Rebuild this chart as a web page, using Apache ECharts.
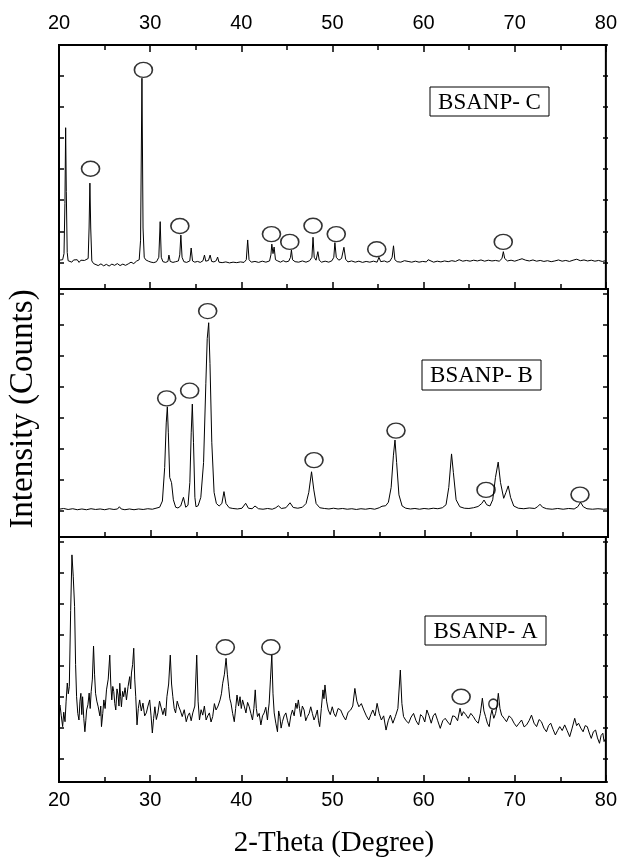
<!DOCTYPE html>
<html><head><meta charset="utf-8">
<script src="https://cdn.jsdelivr.net/npm/echarts@6/dist/echarts.min.js"></script>
<style>html,body{margin:0;padding:0;background:#fff}#c{width:620px;height:859px}</style>
</head><body><div id="c"></div>
<script>
const sampleLabels = ['BSANP- C', 'BSANP- B', 'BSANP- A'];
const xTitle = '2-Theta (Degree)';
const yTitle = 'Intensity (Counts)';
const xMin = 20, xMax = 80, xStep = 10;

// Panel C (top) trace: [2theta, relative intensity]
const traceC = [[20.0,11.8],[20.2,11.3],[20.4,12.0],[20.55,14.5],[20.65,35],[20.73,66.1],[20.8,40],[20.9,15],[21.0,11.6],[21.2,12.2],[21.4,11.0],[21.6,11.9],[21.8,11.2],[22.0,12.0],[22.2,10.9],[22.4,11.8],[22.6,11.1],[22.8,11.7],[23.0,11.2],[23.2,12.5],[23.3,25],[23.39,43.4],[23.48,25],[23.6,11.5],[23.8,10.4],[24.0,10.0],[24.3,9.6],[24.6,10.3],[24.9,9.5],[25.2,10.1],[25.5,9.4],[25.8,10.2],[26.1,9.7],[26.4,10.4],[26.7,9.6],[27.0,10.2],[27.3,9.7],[27.6,10.3],[27.9,11.0],[28.2,10.4],[28.5,11.4],[28.8,12.0],[28.95,20],[29.1,86.4],[29.22,25],[29.35,13],[29.5,12.0],[29.8,11.4],[30.1,11.0],[30.4,10.8],[30.7,11.2],[30.95,13],[31.1,27.6],[31.22,13],[31.4,11.2],[31.7,10.9],[31.95,11.3],[32.06,13.9],[32.2,11.3],[32.5,10.9],[32.8,11.2],[33.1,11.5],[33.25,14],[33.37,22.1],[33.5,13],[33.7,11.2],[34.0,10.9],[34.35,11.5],[34.5,16.8],[34.65,11.5],[34.9,11.0],[35.2,11.3],[35.5,10.9],[35.8,11.6],[35.96,13.9],[36.1,11.4],[36.4,11.7],[36.58,13.9],[36.75,11.3],[37.0,11.1],[37.25,11.6],[37.4,13.1],[37.55,11.0],[37.9,10.8],[38.3,11.1],[38.7,10.7],[39.1,11.0],[39.5,10.8],[39.9,11.1],[40.3,10.9],[40.55,12],[40.7,20.1],[40.85,12],[41.1,11.0],[41.5,11.3],[41.9,10.9],[42.3,11.4],[42.7,11.0],[43.1,11.5],[43.25,14],[43.35,18.4],[43.48,14.5],[43.6,17.2],[43.75,12],[44.0,11.5],[44.3,11.0],[44.6,11.6],[44.9,11.1],[45.2,11.4],[45.4,13],[45.5,16.0],[45.62,12],[45.9,11.2],[46.3,11.0],[46.7,11.5],[47.1,11.0],[47.5,11.6],[47.75,13],[47.87,21.2],[48.0,13],[48.2,11.8],[48.4,15.3],[48.55,11.8],[48.8,11.0],[49.2,11.4],[49.6,11.0],[49.95,11.6],[50.15,13],[50.27,19.0],[50.42,13],[50.7,11.8],[51.0,12.5],[51.26,17.1],[51.45,12.2],[51.7,11.1],[52.1,11.5],[52.5,11.0],[52.9,11.4],[53.3,10.9],[53.7,11.3],[54.1,11.0],[54.5,11.4],[54.9,11.0],[55.1,13.0],[55.3,11.2],[55.7,11.5],[56.0,11.0],[56.3,11.4],[56.55,13],[56.7,17.7],[56.85,12],[57.1,11.2],[57.5,11.0],[57.9,11.6],[58.1,12.2],[58.3,11.3],[58.7,11.0],[59.1,11.4],[59.5,11.0],[59.9,11.3],[60.3,11.1],[60.5,12.0],[60.7,11.2],[61.1,11.0],[61.5,11.4],[61.9,11.1],[62.3,11.5],[62.7,11.2],[63.1,11.6],[63.5,11.3],[63.9,12.0],[64.3,11.4],[64.7,11.7],[65.1,11.4],[65.5,11.8],[65.9,11.5],[66.3,11.9],[66.7,11.4],[67.1,11.8],[67.5,11.5],[67.9,11.7],[68.3,11.4],[68.6,12.5],[68.75,15.3],[68.9,12.5],[69.2,11.5],[69.6,11.8],[70.0,11.4],[70.4,11.9],[70.8,12.4],[71.2,11.8],[71.6,11.5],[72.0,11.9],[72.4,11.4],[72.8,11.7],[73.2,11.3],[73.6,11.6],[74.0,11.2],[74.4,11.5],[74.8,11.9],[75.2,11.4],[75.6,11.7],[76.0,11.3],[76.4,11.8],[76.8,12.2],[77.2,11.6],[77.6,11.9],[78.0,11.5],[78.4,11.8],[78.8,11.4],[79.2,11.7],[79.6,11.3],[80.0,11.6]];
const peaksC = [[23.46,49.3],[29.26,89.8],[33.26,25.8],[43.31,22.5],[45.32,19.3],[47.87,25.9],[50.42,22.5],[54.86,16.3],[68.74,19.3]];

// Panel B (middle)
const traceB = [[20.0,11.2],[20.5,11.5],[21.0,11.1],[21.5,11.4],[22.0,11.0],[22.5,11.3],[23.0,11.0],[23.5,11.4],[24.0,11.1],[24.5,11.3],[25.0,11.0],[25.5,11.4],[26.0,11.1],[26.4,11.3],[26.6,12.2],[26.8,11.3],[27.2,11.0],[27.7,11.3],[28.2,11.0],[28.7,11.3],[29.2,11.1],[29.7,11.4],[30.2,11.2],[30.6,11.6],[31.0,12.0],[31.3,14.5],[31.55,28],[31.72,46],[31.84,52.5],[31.95,42],[32.1,24],[32.3,21.9],[32.5,15],[32.75,12.0],[33.0,11.7],[33.3,12.5],[33.6,16.0],[33.85,12.0],[34.1,12.8],[34.3,22],[34.45,42],[34.57,53.6],[34.7,38],[34.85,16],[34.97,12.2],[35.2,12.6],[35.5,16],[35.8,30],[36.05,62],[36.2,80],[36.36,86.4],[36.5,70],[36.7,38],[36.95,18],[37.2,13.5],[37.5,12.5],[37.8,13.5],[38.03,18.3],[38.25,13.5],[38.6,11.8],[39.0,11.5],[39.5,11.3],[40.0,11.6],[40.4,13.6],[40.7,11.6],[41.1,11.4],[41.42,12.5],[41.8,11.4],[42.3,11.2],[42.8,11.5],[43.3,11.2],[43.7,11.8],[43.97,12.6],[44.3,11.5],[44.8,11.8],[45.25,13.8],[45.6,11.9],[46.1,11.6],[46.6,12.0],[47.0,13.5],[47.3,18],[47.6,26.3],[47.85,19],[48.1,13.5],[48.5,11.8],[49.0,11.5],[49.5,11.3],[50.0,11.6],[50.5,11.3],[51.0,11.5],[51.5,11.2],[52.0,11.4],[52.5,11.1],[53.0,11.4],[53.5,11.2],[54.0,11.5],[54.5,11.2],[55.0,11.8],[55.3,12.4],[55.45,12.9],[55.7,12.6],[56.0,14],[56.3,20],[56.55,33],[56.72,39.1],[56.9,30],[57.15,17],[57.5,12.5],[57.9,11.6],[58.4,11.3],[58.9,11.5],[59.4,11.2],[59.9,11.5],[60.4,11.3],[60.9,11.6],[61.4,11.4],[61.9,11.8],[62.3,13],[62.6,20],[62.9,33.5],[63.1,26],[63.4,15],[63.8,12.2],[64.3,11.6],[64.8,11.5],[65.3,11.8],[65.8,12.3],[66.2,13.5],[66.45,14.9],[66.75,13],[67.1,12.5],[67.4,15],[67.7,24],[68.0,30.2],[68.25,22],[68.6,15.6],[68.85,18],[69.1,20.6],[69.35,16],[69.7,12.5],[70.2,11.6],[70.8,11.4],[71.4,11.7],[72.0,11.5],[72.3,12.2],[72.57,13.2],[72.85,12.0],[73.3,11.4],[73.9,11.2],[74.5,11.5],[75.1,11.2],[75.7,11.5],[76.3,11.3],[76.7,12.2],[77.0,14.0],[77.3,12.2],[77.7,11.4],[78.3,11.2],[78.9,11.4],[79.5,11.2],[80.0,11.3]];
const peaksB = [[31.77,55.9],[34.28,59.0],[36.25,91.1],[47.87,31.0],[56.83,42.9],[66.67,19.0],[76.94,17.1]];

// Panel A (bottom)
const traceA = [[20.0,30.5],[20.11,31.4],[20.25,27.0],[20.40,22.6],[20.52,28.5],[20.66,24.6],[20.78,33.0],[20.91,40.4],[21.02,36.0],[21.13,38.9],[21.28,70.0],[21.42,92.7],[21.56,84.0],[21.71,71.6],[21.82,48.0],[21.93,34.8],[22.06,28.0],[22.19,25.3],[22.30,33.0],[22.40,36.2],[22.50,27.5],[22.59,34.8],[22.72,26.0],[22.84,20.5],[22.94,25.0],[23.03,29.4],[23.17,31.5],[23.31,36.3],[23.42,30.0],[23.53,36.9],[23.66,42.0],[23.79,55.5],[23.90,44.0],[24.01,36.2],[24.15,33.0],[24.30,30.7],[24.48,27.0],[24.58,31.0],[24.66,22.6],[24.80,28.0],[24.92,33.5],[25.06,30.0],[25.21,37.6],[25.40,42.0],[25.57,51.8],[25.68,40.0],[25.79,33.5],[25.90,39.0],[26.01,36.9],[26.12,32.0],[26.23,29.4],[26.36,38.0],[26.48,35.5],[26.58,31.0],[26.67,40.3],[26.76,35.0],[26.85,30.7],[26.98,37.0],[27.10,34.8],[27.25,38.5],[27.40,33.5],[27.58,39.0],[27.76,43.0],[27.86,38.0],[27.95,44.5],[28.08,48.0],[28.20,54.6],[28.31,42.0],[28.42,34.8],[28.56,23.3],[28.70,30.0],[28.85,33.5],[29.03,29.0],[29.21,32.2],[29.40,27.0],[29.58,28.2],[29.76,31.0],[29.95,33.5],[30.10,27.0],[30.24,20.0],[30.38,26.0],[30.52,30.7],[30.68,25.5],[30.85,28.2],[31.03,33.0],[31.22,32.2],[31.40,27.5],[31.58,30.2],[31.70,27.0],[31.84,34.8],[32.03,40.0],[32.21,51.8],[32.35,40.0],[32.49,34.8],[32.64,30.0],[32.79,28.2],[32.97,33.0],[33.15,30.7],[33.33,29.0],[33.52,26.7],[33.74,29.5],[33.96,24.6],[34.14,27.0],[34.32,28.2],[34.50,25.0],[34.68,28.2],[34.90,31.0],[35.11,51.8],[35.26,33.0],[35.41,25.3],[35.59,29.5],[35.77,27.3],[35.95,31.0],[36.14,25.3],[36.32,27.0],[36.50,28.2],[36.68,24.5],[36.86,26.7],[37.05,32.0],[37.23,29.4],[37.45,31.0],[37.67,33.5],[37.82,36.0],[37.96,40.3],[38.15,44.0],[38.33,50.5],[38.47,44.0],[38.61,38.9],[38.74,34.0],[38.87,32.2],[39.05,28.0],[39.23,24.6],[39.38,30.0],[39.53,35.5],[39.70,31.0],[39.86,34.8],[40.00,30.0],[40.14,33.5],[40.32,31.0],[40.51,28.2],[40.69,32.5],[40.87,30.7],[41.05,28.0],[41.23,25.3],[41.38,30.0],[41.53,37.6],[41.65,30.0],[41.78,26.7],[41.96,28.0],[42.15,23.3],[42.33,27.0],[42.51,28.2],[42.69,30.5],[42.87,25.3],[42.96,29.0],[43.06,32.2],[43.20,42.0],[43.35,51.8],[43.48,36.0],[43.61,28.2],[43.79,24.0],[43.97,20.5],[44.10,29.0],[44.23,26.7],[44.37,22.0],[44.51,24.6],[44.70,27.0],[44.89,28.2],[45.07,25.0],[45.25,22.6],[45.43,27.0],[45.61,29.4],[45.80,27.0],[45.98,32.2],[46.12,30.0],[46.26,33.5],[46.39,30.0],[46.52,26.7],[46.70,31.0],[46.89,29.4],[47.07,25.0],[47.25,26.7],[47.44,28.0],[47.62,30.7],[47.80,28.0],[47.98,25.3],[48.16,27.0],[48.34,29.4],[48.47,25.0],[48.60,22.6],[48.78,30.0],[48.96,37.6],[49.07,34.0],[49.18,39.6],[49.36,33.0],[49.54,29.4],[49.76,27.5],[49.98,30.7],[50.17,28.0],[50.35,26.7],[50.62,30.0],[50.9,29.4],[51.18,27.0],[51.45,25.3],[51.72,28.5],[52.0,29.4],[52.23,31.0],[52.46,38.2],[52.68,33.0],[52.9,30.7],[53.17,32.0],[53.44,29.4],[53.72,27.0],[53.99,25.3],[54.21,27.5],[54.43,29.4],[54.67,27.0],[54.9,32.1],[55.13,28.0],[55.37,25.3],[55.62,27.0],[55.88,21.2],[56.12,25.0],[56.36,27.3],[56.63,24.0],[56.9,26.7],[57.18,30.0],[57.45,45.7],[57.62,32.0],[57.8,26.7],[58.08,25.0],[58.36,24.0],[58.63,26.5],[58.9,28.0],[59.17,25.0],[59.45,23.3],[59.67,27.5],[59.9,26.7],[60.13,24.5],[60.36,29.4],[60.6,27.0],[60.84,24.0],[61.06,27.0],[61.28,28.0],[61.55,25.0],[61.83,21.9],[62.1,25.0],[62.37,26.0],[62.65,24.5],[62.92,23.3],[63.19,27.0],[63.46,26.7],[63.73,25.0],[64.0,30.1],[64.18,27.0],[64.37,28.7],[64.63,27.5],[64.9,26.0],[65.18,28.0],[65.46,26.7],[65.73,25.0],[66.0,24.0],[66.23,28.0],[66.45,34.2],[66.62,29.0],[66.8,26.7],[67.0,24.0],[67.2,22.6],[67.35,27.0],[67.5,29.4],[67.7,26.0],[67.9,28.0],[68.05,31.0],[68.2,36.2],[68.38,30.0],[68.56,27.3],[68.83,26.0],[69.1,24.6],[69.38,27.0],[69.65,26.0],[69.93,24.0],[70.2,22.6],[70.48,24.0],[70.75,25.3],[71.03,22.5],[71.3,23.3],[71.57,25.0],[71.84,27.3],[72.12,24.0],[72.4,22.6],[72.67,25.5],[72.93,24.6],[73.2,22.0],[73.48,20.5],[73.71,23.0],[73.95,24.0],[74.2,21.5],[74.46,19.2],[74.7,21.0],[74.94,22.6],[75.21,21.0],[75.48,23.3],[75.75,21.0],[76.03,18.5],[76.3,22.0],[76.58,26.0],[76.79,23.0],[77.0,24.0],[77.25,22.0],[77.5,20.5],[77.73,23.0],[77.96,22.6],[78.18,20.0],[78.4,17.8],[78.63,20.5],[78.87,21.2],[79.08,18.0],[79.3,15.8],[79.48,19.0],[79.67,19.9],[79.8,16.5],[80.0,18.0]];
const peaksA = [[38.25,55.0],[43.25,55.0],[64.12,34.8]];
const peaksAsmall = [[67.65,31.8]];

const font = '"Liberation Sans", Arial, sans-serif';
const serif = '"Liberation Serif", "Times New Roman", serif';

const L = 59, W = 549;
const panels = [{top:45,height:244},{top:289,height:248},{top:537,height:245}];

function xAx(grid, pos, labels, margin) {
  return {
    type:'value', gridIndex:grid, position:pos, min:xMin, max:xMax, interval:xStep,
    axisLine:{show:false},
    axisTick:{show:true, inside:true, length:7, lineStyle:{color:'#000', width:1.5}},
    minorTick:{show:true, splitNumber:2, length:5, lineStyle:{color:'#000', width:1.5}},
    axisLabel:{show:labels, margin:margin, color:'#000', fontSize:20, fontFamily:font},
    splitLine:{show:false}
  };
}
function yHidden(grid) {
  return {type:'value', gridIndex:grid, min:0, max:100, show:false};
}
function tickAxis(pos) {
  return {
    type:'value', gridIndex:3, position:pos, min:0, max:23.74, interval:1, inverse:true,
    axisLine:{show:false},
    axisTick:{show:true, inside:true, length:5, lineStyle:{color:'#000', width:1.5}},
    axisLabel:{show:false}, splitLine:{show:false}
  };
}
const lineS = (data, xi, yi) => ({type:'line', data, xAxisIndex:xi, yAxisIndex:yi, showSymbol:false, symbol:'none',
  lineStyle:{color:'#000', width:1}, silent:true, z:3});
const ringS = (data, xi, yi, size) => ({type:'scatter', data, xAxisIndex:xi, yAxisIndex:yi, symbol:'circle', symbolSize:size,
  itemStyle:{color:'rgba(255,255,255,0)', borderColor:'#000', borderWidth:1.5}, silent:true, z:4});

function box(label, x, y, w, h) {
  return {type:'group', children:[
    {type:'rect', shape:{x, y, width:w, height:h}, style:{fill:'#fff', stroke:'#000', lineWidth:1}, z:10},
    {type:'text', x:x + w/2, y:y + h/2 + 1, style:{text:label, font:'23px ' + serif, fill:'#000', align:'center', verticalAlign:'middle'}, z:11}
  ]};
}

const chart = echarts.init(document.getElementById('c'), null, {renderer:'canvas'});
chart.setOption({
  animation:false,
  backgroundColor:'#fff',
  grid:[
    ...panels.map(p => ({left:L, width:W, top:p.top, height:p.height, show:true, borderColor:'#000', borderWidth:2, backgroundColor:'transparent'})),
    {left:L, width:W, top:45, height:737, show:false}
  ],
  xAxis:[
    xAx(0,'bottom',false,8),
    xAx(0,'top',true,12),
    xAx(1,'bottom',false,8),
    xAx(2,'bottom',true,8),
    {type:'value', gridIndex:3, min:xMin, max:xMax, show:false}
  ],
  yAxis:[yHidden(0), yHidden(1), yHidden(2), tickAxis('left'), tickAxis('right')],
  series:[
    lineS(traceC,0,0), ringS(peaksC,0,0,[18,15]),
    lineS(traceB,2,1), ringS(peaksB,2,1,[18,15]),
    lineS(traceA,3,2), ringS(peaksA,3,2,[18,15]), ringS(peaksAsmall,3,2,[9,10])
  ],
  graphic:[
    box(sampleLabels[0], 430, 87, 119, 29),
    box(sampleLabels[1], 422, 360, 119, 30),
    box(sampleLabels[2], 425, 616, 121, 29),
    {type:'text', x:334, y:843, style:{text:xTitle, font:'29px ' + serif, fill:'#000', align:'center', verticalAlign:'middle'}},
    {type:'text', x:23, y:409, rotation:Math.PI/2, style:{text:yTitle, font:'33px ' + serif, fill:'#000', align:'center', verticalAlign:'middle'}}
  ]
});
</script></body></html>
